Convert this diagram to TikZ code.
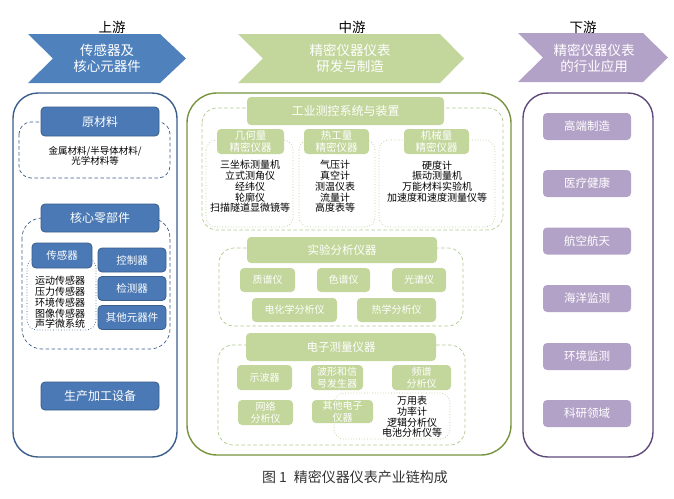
\documentclass[tikz,border=0pt]{standalone}
\usepackage{fontspec}
\setmainfont{Noto Sans CJK SC}
\usepackage{xcolor}
\usetikzlibrary{positioning}
\definecolor{bandblue}{HTML}{4F81BD}
\definecolor{boxblue}{HTML}{4A79B5}
\definecolor{lineblue}{HTML}{3B5E8C}
\definecolor{bandgreen}{HTML}{C3D69B}
\definecolor{linegreen}{HTML}{77933C}
\definecolor{dashgreen}{HTML}{AFC88A}
\definecolor{bandpurple}{HTML}{B3A2C7}
\definecolor{linepurple}{HTML}{5F497A}
\tikzset{
	bandtext/.style={text=white, align=center, font=\fontsize{13.5}{16}\selectfont},
	flowlabel/.style={text=black, font=\fontsize{13.5}{15}\selectfont},
	blockBlue/.style={draw=lineblue, line width=0.8, fill=boxblue, rounded corners=4, text=white, inner sep=0, align=center},
	blockGreen/.style={fill=bandgreen, rounded corners=4, text=white, inner sep=0, align=center},
	blockPurple/.style={fill=bandpurple, rounded corners=4, text=white, inner sep=0,
			minimum width=88, minimum height=27, font=\fontsize{11.5}{13}\selectfont},
	itemlist/.style={text=black, align=center, inner sep=0, font=\fontsize{10}{10.8}\selectfont},
	dashBlue/.style={draw=lineblue, dash pattern=on 3.5pt off 2.5pt, line width=0.7},
	dotBlue/.style={draw=lineblue, dotted, line width=0.7},
	dashGreen/.style={draw=dashgreen, dash pattern=on 3.5pt off 2.5pt, line width=0.7},
	dotGreen/.style={draw=dashgreen, dotted, line width=0.7}
}

\begin{document}
\begin{tikzpicture}[x=1pt, y=-1pt]
	\useasboundingbox (0,0) rectangle (674,498);

	\fill[bandblue]	(28,34) -- (160,34) -- (186,58.5) -- (160,83) -- (28,83) -- (53,58.5) -- cycle;
	\fill[bandgreen]	(238,34) -- (440,34) -- (464,58.5) -- (440,83) -- (238,83) -- (263,58.5) -- cycle;
	\fill[bandpurple]	(518,33) -- (643,33) -- (668,57.5) -- (643,82) -- (518,82) -- (543,57.5) -- cycle;

	\node[flowlabel] (up) at (112,27) {上游};
	\node[flowlabel] (mid) at (352,27) {中游};
	\node[flowlabel] (down) at (583,27) {下游};

	\node[bandtext] (upband) at (107,58) {传感器及\\核心元器件};
	\node[bandtext] (midband) at (350,58) {精密仪器仪表\\研发与制造};
	\node[bandtext] (downband) at (594,58) {精密仪器仪表\\的行业应用};

	\draw[lineblue, line width=1.4, rounded corners=25]	(13,93) rectangle (177,457);

	\draw[dashBlue, rounded corners=12]	(19,122) rectangle (170,178);
	\node[blockBlue, minimum width=118, minimum height=29, font=\fontsize{12}{14}\selectfont] (rawmat) at (100,121.5) {原材料};
	\node[itemlist, font=\fontsize{9.5}{10.5}\selectfont] (rawlist) at (95,156) {金属材料/半导体材料/\\光学材料等};

	\draw[dashBlue, rounded corners=20]	(22,218) rectangle (170,349);
	\node[blockBlue, minimum width=118, minimum height=28, font=\fontsize{12}{14}\selectfont] (core) at (100,218) {核心零部件};
	\draw[dotBlue, rounded corners=10]	(27,258) rectangle (96,330);
	\node[blockBlue, minimum width=60, minimum height=25, font=\fontsize{10.5}{12}\selectfont] (sensor) at (62,255.5) {传感器};
	\node[itemlist] (sensorlist) at (60,302.5) {运动传感器\\压力传感器\\环境传感器\\图像传感器\\声学微系统};
	\foreach \name/\y [count=\i] in {控制器/260, 检测器/288.5, 其他元器件/317.5}
		\node[blockBlue, minimum width=68, minimum height=24, font=\fontsize{10.5}{12}\selectfont] (part\i) at (132,\y) {\name};

	\node[blockBlue, minimum width=118, minimum height=28, font=\fontsize{12}{14}\selectfont] (equip) at (100,396) {生产加工设备};

	\draw[linegreen, line width=1.4, rounded corners=30]	(187,93) rectangle (511,455);

	\draw[dashGreen, rounded corners=15]	(202,108) rectangle (503,230);
	\node[blockGreen, minimum width=197, minimum height=28, font=\fontsize{12}{14}\selectfont] (ctrl) at (345.5,111) {工业测控系统与装置};
	\draw[dotGreen, rounded corners=10]	(206,140) rectangle (293,227);
	\draw[dotGreen, rounded corners=10]	(299,140) rectangle (375,227);
	\draw[dotGreen, rounded corners=10]	(379,140) rectangle (495,227);
	\node[blockGreen, minimum width=67, minimum height=25, font=\fontsize{10.5}{12}\selectfont] (geom) at (250.5,141.5) {几何量\\精密仪器};
	\node[blockGreen, minimum width=65, minimum height=25, font=\fontsize{10.5}{12}\selectfont] (therm) at (336.5,141.5) {热工量\\精密仪器};
	\node[blockGreen, minimum width=65, minimum height=25, font=\fontsize{10.5}{12}\selectfont] (mech) at (436.5,141.5) {机械量\\精密仪器};
	\node[itemlist] (geomlist) at (250,186.5) {三坐标测量机\\立式测角仪\\经纬仪\\轮廓仪\\扫描隧道显微镜等};
	\node[itemlist] (thermlist) at (335,186.5) {气压计\\真空计\\测温仪表\\流量计\\高度表等};
	\node[itemlist] (mechlist) at (437,181.5) {硬度计\\振动测量机\\万能材料实验机\\加速度和速度测量仪等};

	\draw[dashGreen, rounded corners=15]	(219,248) rectangle (463,326);
	\node[blockGreen, minimum width=190, minimum height=26, font=\fontsize{11.5}{13}\selectfont] (lab) at (342,250) {实验分析仪器};
	\foreach \name/\x/\w [count=\i] in {质谱仪/267.5/55, 色谱仪/343.5/53, 光谱仪/419/54}
		\node[blockGreen, minimum width=\w, minimum height=24, font=\fontsize{10}{12}\selectfont] (lab\i) at (\x,280) {\name};
	\node[blockGreen, minimum width=85, minimum height=24, font=\fontsize{10}{12}\selectfont] (lab4) at (294.5,310) {电化学分析仪};
	\node[blockGreen, minimum width=79, minimum height=24, font=\fontsize{10}{12}\selectfont] (lab5) at (396.5,310) {热学分析仪};

	\draw[dashGreen, rounded corners=15]	(218,345) rectangle (465,445);
	\node[blockGreen, minimum width=190, minimum height=28, font=\fontsize{11.5}{13}\selectfont] (elec) at (341,347) {电子测量仪器};
	\node[blockGreen, minimum width=55, minimum height=25, font=\fontsize{10}{12}\selectfont] (elec1) at (264.5,377.5) {示波器};
	\node[blockGreen, minimum width=52, minimum height=25, font=\fontsize{10}{11.5}\selectfont] (elec2) at (337,377.5) {波形和信\\号发生器};
	\node[blockGreen, minimum width=59, minimum height=25, font=\fontsize{10}{11.5}\selectfont] (elec3) at (421.5,377.5) {频谱\\分析仪};
	\draw[dotGreen, rounded corners=10]	(334,393) rectangle (450,439);
	\node[itemlist] (eleclist) at (412,417) {万用表\\功率计\\逻辑分析仪\\电池分析仪等};
	\node[blockGreen, minimum width=55, minimum height=25, font=\fontsize{10}{11.5}\selectfont] (elec4) at (265.5,412.5) {网络\\分析仪};
	\node[blockGreen, minimum width=61, minimum height=23, font=\fontsize{10}{11.5}\selectfont] (elec5) at (342.5,411.5) {其他电子\\仪器};

	\draw[linepurple, line width=1.4, rounded corners=25]	(523,93) rectangle (653,457);
	\foreach \name/\y [count=\i] in {高端制造/126.5, 医疗健康/183.5, 航空航天/241, 海洋监测/298.5, 环境监测/356.5, 科研领域/413.5}
		\node[blockPurple] (app\i) at (587,\y) {\name};

	\node[text=black!80, font=\fontsize{14}{16}\selectfont] (caption) at (355,477) {图 1\enspace 精密仪器仪表产业链构成};
\end{tikzpicture}
\end{document}
